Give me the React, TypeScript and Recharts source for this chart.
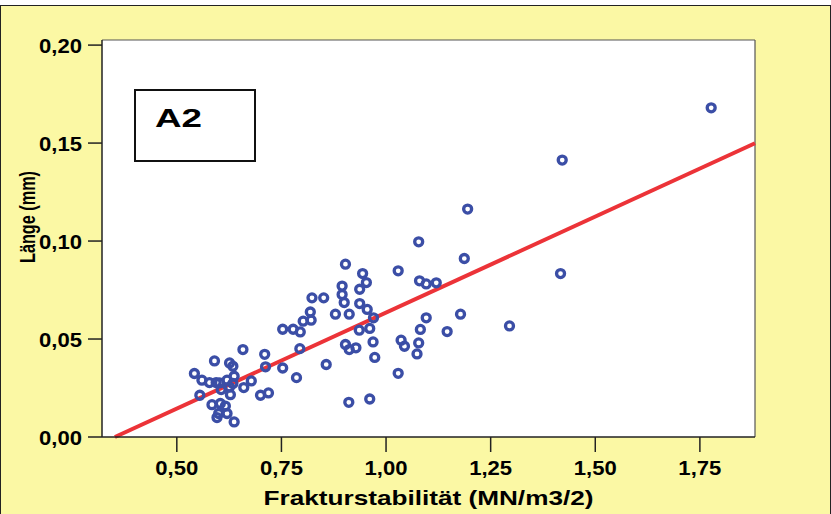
import {
  CartesianGrid,
  Label,
  ReferenceLine,
  Scatter,
  ScatterChart,
  XAxis,
  YAxis,
} from 'recharts';

const frakturstabilitaet = [
  0.658, 0.710, 0.590, 0.626, 0.634, 0.712, 0.542, 0.560, 0.578, 0.594,
  0.602, 0.620, 0.637, 0.634, 0.678, 0.660, 0.626, 0.606, 0.555, 0.628,
  0.700, 0.719, 0.584, 0.604, 0.616, 0.600, 0.620, 0.596, 0.637,
  0.823, 0.851, 0.819, 0.802, 0.821, 0.753, 0.778, 0.795, 0.794, 0.753,
  0.857, 0.786,
  0.903, 0.944, 0.953, 0.895, 0.937, 0.895, 0.900, 0.937, 0.955, 0.879,
  0.912, 0.970, 0.936, 0.961, 0.903, 0.912, 0.928, 0.969, 0.973, 0.911,
  0.961,
  1.195, 1.078, 1.187, 1.029, 1.080, 1.096, 1.120, 1.096, 1.178, 1.082,
  1.146, 1.036, 1.044, 1.078, 1.074, 1.029,
  1.777, 1.421, 1.417, 1.295,
];
const laenge = [
  0.0446, 0.0422, 0.0388, 0.0378, 0.0361, 0.0358, 0.0324, 0.0290, 0.0278, 0.0278,
  0.0276, 0.0290, 0.0310, 0.0273, 0.0286, 0.0252, 0.0255, 0.0242, 0.0213, 0.0216,
  0.0213, 0.0225, 0.0165, 0.0171, 0.0158, 0.0120, 0.0120, 0.0099, 0.0077,
  0.0710, 0.0710, 0.0638, 0.0591, 0.0596, 0.0550, 0.0550, 0.0536, 0.0451, 0.0352,
  0.0370, 0.0303,
  0.0882, 0.0834, 0.0788, 0.0770, 0.0754, 0.0727, 0.0686, 0.0681, 0.0651, 0.0627,
  0.0627, 0.0608, 0.0545, 0.0554, 0.0472, 0.0446, 0.0455, 0.0485, 0.0406, 0.0177,
  0.0194,
  0.1163, 0.0996, 0.0911, 0.0848, 0.0797, 0.0781, 0.0787, 0.0608, 0.0627, 0.0549,
  0.0538, 0.0494, 0.0463, 0.0480, 0.0424, 0.0325,
  0.1680, 0.1413, 0.0834, 0.0567,
];

const xTicks = [0.5, 0.75, 1.0, 1.25, 1.5, 1.75];
const yTicks = [0, 0.05, 0.1, 0.15, 0.2];
const xDomain = [0.3212, 1.8817];
const yDomain = [0, 0.2026];

// linear fit shown as the red line
const fitIntercept = -0.0345;
const fitSlope = 0.098;

const points = frakturstabilitaet.map((x, i) => ({ x, y: laenge[i] }));
const fitStart = -fitIntercept / fitSlope;
const fitLine = [
  { x: fitStart, y: 0 },
  { x: xDomain[1], y: fitIntercept + fitSlope * xDomain[1] },
];

const BG = '#FBF8A4';
const FONT = '"Liberation Sans", Arial, sans-serif';
const fmt = (v: number) => v.toFixed(2).replace('.', ',');

const XTick = ({ x, y, payload }: any) => (
  <text
    x={x}
    y={y + 23}
    textAnchor="middle"
    fontFamily={FONT}
    fontWeight="bold"
    fontSize={21}
    fill="#000"
    textLength={43}
    lengthAdjust="spacingAndGlyphs"
  >
    {fmt(payload.value)}
  </text>
);

const YTick = ({ x, y, payload }: any) => (
  <text
    x={x - 6}
    y={y + 8}
    textAnchor="end"
    fontFamily={FONT}
    fontWeight="bold"
    fontSize={21}
    fill="#000"
    textLength={43}
    lengthAdjust="spacingAndGlyphs"
  >
    {fmt(payload.value)}
  </text>
);

const Ring = ({ cx, cy }: any) => (
  <circle cx={cx} cy={cy} r={4} fill="none" stroke="#3B4EA6" strokeWidth={3.3} />
);

export default function App() {
  return (
    <div
      style={{
        position: 'absolute',
        left: 0,
        top: 0,
        width: 831,
        height: 514,
        background: '#fff',
        overflow: 'hidden',
      }}
    >
      <div
        style={{
          position: 'absolute',
          left: 0,
          top: 5,
          width: 829,
          height: 512,
          background: BG,
          border: '1px solid #222',
        }}
      />
      <div style={{ position: 'absolute', left: 0, top: 0 }}>
        <ScatterChart
          width={831}
          height={514}
          margin={{ top: 40, right: 76, bottom: 0, left: 0 }}
        >
          <CartesianGrid horizontal={false} vertical={false} fill="#fff" fillOpacity={1} />
          <XAxis
            type="number"
            dataKey="x"
            domain={xDomain}
            ticks={xTicks}
            allowDataOverflow
            height={77}
            tickSize={15}
            tickMargin={0}
            tick={<XTick />}
            axisLine={{ stroke: '#222', strokeWidth: 1.5 }}
            tickLine={{ stroke: '#222', strokeWidth: 1.5 }}
          >
            <Label
              content={({ viewBox }: any) => (
                <text
                  x={viewBox.x + viewBox.width / 2}
                  y={viewBox.y + 68}
                  textAnchor="middle"
                  fontFamily={FONT}
                  fontWeight="bold"
                  fontSize={21}
                  fill="#000"
                  textLength={330}
                  lengthAdjust="spacingAndGlyphs"
                >
                  Frakturstabilität (MN/m3/2)
                </text>
              )}
            />
          </XAxis>
          <YAxis
            type="number"
            dataKey="y"
            domain={yDomain}
            ticks={yTicks}
            allowDataOverflow
            width={102}
            tickSize={14}
            tickMargin={0}
            tick={<YTick />}
            axisLine={{ stroke: '#222', strokeWidth: 1.5 }}
            tickLine={{ stroke: '#222', strokeWidth: 1.5 }}
          >
            <Label
              content={({ viewBox }: any) => (
                <text
                  x={viewBox.x + 35}
                  y={viewBox.y + 177}
                  transform={`rotate(-90, ${viewBox.x + 35}, ${viewBox.y + 177})`}
                  textAnchor="middle"
                  fontFamily={FONT}
                  fontWeight="bold"
                  fontSize={22}
                  fill="#000"
                  textLength={92}
                  lengthAdjust="spacingAndGlyphs"
                >
                  Länge (mm)
                </text>
              )}
            />
          </YAxis>
          <ReferenceLine y={yDomain[1]} stroke="#555" strokeWidth={1.2} />
          <ReferenceLine x={xDomain[1]} stroke="#555" strokeWidth={1.2} />
          <Scatter data={points} shape={<Ring />} isAnimationActive={false} />
          <ReferenceLine
            segment={fitLine}
            stroke="#EC3338"
            strokeWidth={4}
          />
        </ScatterChart>
      </div>
      <svg
        width={831}
        height={514}
        style={{ position: 'absolute', left: 0, top: 0, pointerEvents: 'none' }}
      >
        <rect x={135} y={90} width={120} height={71} fill="#fff" stroke="#111" strokeWidth={2} />
        <text
          x={155}
          y={127}
          fontFamily={FONT}
          fontWeight="bold"
          fontSize={25}
          fill="#000"
          textLength={47}
          lengthAdjust="spacingAndGlyphs"
        >
          A2
        </text>
      </svg>
    </div>
  );
}
